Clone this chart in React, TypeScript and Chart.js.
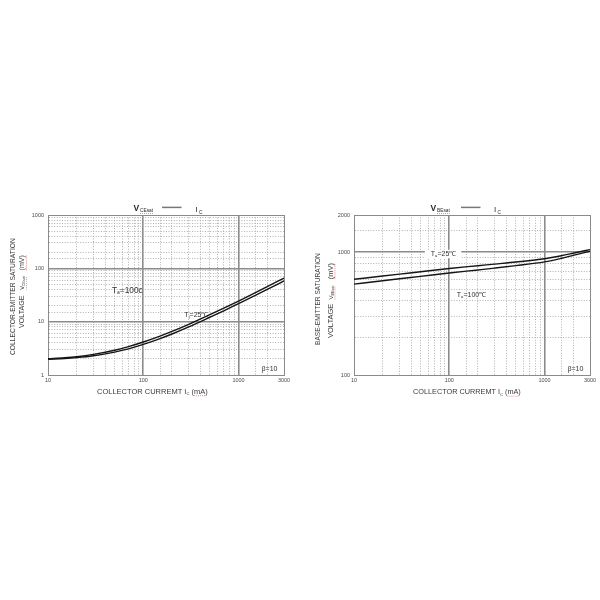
import React, { useEffect, useRef } from 'react';
import { Chart, registerables } from 'chart.js';

Chart.register(...registerables);

const FONT = '"Liberation Sans", Arial, Helvetica, sans-serif';

// ---------- data ----------
const leftCurrent = [10, 15, 20, 30, 50, 70, 100, 150, 200, 300, 500, 700, 1000, 1500, 2000, 3000];
const vceSatHot = [2.02, 2.1, 2.2, 2.43, 2.91, 3.4, 4.15, 5.36, 6.55, 8.9, 13.5, 17.9, 24.4, 35.0, 45.3, 65.6];
const vceSatCold = [1.98, 2.04, 2.115, 2.29, 2.69, 3.09, 3.74, 4.81, 5.87, 7.98, 12.1, 16.0, 21.8, 31.1, 40.2, 58.1];

const rightCurrent = [10, 20, 30, 50, 100, 200, 300, 500, 1000, 1500, 2000, 3000];
const vbeSat25 = [600, 638, 661, 691, 735, 774, 798, 829, 882, 933, 978, 1047];
const vbeSat100 = [548, 584, 606, 634, 675, 715, 740, 775, 832, 889, 940, 1016];

const xTickLabels = [10, 100, 1000, 3000];
const leftYTickLabels = [1, 10, 100, 1000];
const rightYTickLabels = [100, 1000, 2000];
const xMajorLines = [100, 1000];
const leftYMajorLines = [10, 100];
const rightYMajorLines = [1000];

// ---------- helpers ----------
const near = (a: number, b: number) => Math.abs(a - b) <= Math.abs(b) * 1e-6;
const inList = (v: number, list: number[]) => list.some((l) => near(v, l));
const fnt = (size: number, bold = false) => `${bold ? 'bold ' : ''}${size}px ${FONT}`;

type Part = { t: string; s?: number; dy?: number; bold?: boolean; u?: boolean };

function measureParts(ctx: CanvasRenderingContext2D, parts: Part[], base: number) {
  let w = 0;
  for (const p of parts) {
    ctx.font = fnt(base * (p.s ?? 1), p.bold);
    w += ctx.measureText(p.t).width;
  }
  return w;
}

function drawParts(ctx: CanvasRenderingContext2D, parts: Part[], x: number, y: number, base: number, color: string) {
  let cx = x;
  const unders: [number, number][] = [];
  ctx.fillStyle = color;
  ctx.textAlign = 'left';
  ctx.textBaseline = 'alphabetic';
  for (const p of parts) {
    ctx.font = fnt(base * (p.s ?? 1), p.bold);
    const w = ctx.measureText(p.t).width;
    ctx.fillText(p.t, cx, y + (p.dy ?? 0) * base);
    if (p.u) unders.push([cx, cx + w]);
    cx += w;
  }
  if (unders.length) {
    ctx.save();
    ctx.strokeStyle = '#e07a7a';
    ctx.lineWidth = 0.8;
    ctx.setLineDash([1, 1]);
    const uy = y + base * 0.3;
    for (const [a, b] of unders) {
      ctx.beginPath();
      ctx.moveTo(a, uy);
      ctx.lineTo(b, uy);
      ctx.stroke();
    }
    ctx.restore();
  }
  return cx - x;
}

type Spec = {
  title: { vx: number; y: number; sub: string; subX: number; lineX1: number; lineX2: number; ix: number };
  yTitle: { lines: { parts: Part[]; cx: number; cy: number; len: number }[] };
  xTitle: { parts: Part[]; cx: number; y: number; len: number };
  notes: { parts: Part[]; x: number; y: number; size: number; bg?: boolean }[];
};

function figTextPlugin(spec: Spec) {
  return {
    id: 'figText',
    afterDraw(chart: any) {
      const ctx: CanvasRenderingContext2D = chart.ctx;
      ctx.save();
      const ink = '#2a2a2a';
      // chart title: V_xxx —— I_C
      const t = spec.title;
      ctx.fillStyle = ink;
      ctx.textBaseline = 'alphabetic';
      ctx.textAlign = 'left';
      ctx.font = fnt(8.5, true);
      ctx.fillText('V', t.vx, t.y);
      drawParts(ctx, [{ t: t.sub, u: true }], t.subX, t.y + 1.2, 4.8, ink);
      ctx.strokeStyle = '#777';
      ctx.lineWidth = 1.5;
      ctx.beginPath();
      ctx.moveTo(t.lineX1, t.y - 3.6);
      ctx.lineTo(t.lineX2, t.y - 3.6);
      ctx.stroke();
      ctx.fillStyle = ink;
      ctx.font = fnt(8);
      ctx.fillText('I', t.ix, t.y + 1.2);
      ctx.font = fnt(4.8);
      ctx.fillText('C', t.ix + 3.4, t.y + 2.6);

      // y-axis title (rotated)
      for (const line of spec.yTitle.lines) {
        const w10 = measureParts(ctx, line.parts, 10);
        const base = (10 * line.len) / w10;
        ctx.save();
        ctx.translate(line.cx, line.cy);
        ctx.rotate(-Math.PI / 2);
        drawParts(ctx, line.parts, -line.len / 2, base * 0.36, base, '#3a3a3a');
        ctx.restore();
      }

      // x-axis title
      {
        const xt = spec.xTitle;
        const w10 = measureParts(ctx, xt.parts, 10);
        const base = (10 * xt.len) / w10;
        drawParts(ctx, xt.parts, xt.cx - xt.len / 2, xt.y, base, '#3a3a3a');
      }

      // annotations in data space
      const xs = chart.scales.x;
      const ys = chart.scales.y;
      for (const n of spec.notes) {
        const px = xs.getPixelForValue(n.x);
        const py = ys.getPixelForValue(n.y);
        if (n.bg) {
          const w = measureParts(ctx, n.parts, n.size);
          ctx.fillStyle = '#fff';
          ctx.fillRect(px - 6, py - n.size * 0.85, w + 11, n.size * 1.2);
        }
        drawParts(ctx, n.parts, px, py, n.size, '#333');
      }
      ctx.restore();
    },
  };
}

function makeConfig(o: {
  xs: number[];
  series: number[][];
  yMin: number;
  yMax: number;
  yLabels: number[];
  yMajor: number[];
  yAxisWidth: number;
  padRight: number;
  spec: Spec;
}) {
  const gridFor = (major: number[]) => ({
    drawTicks: false,
    color: (c: any) => {
      const v = c.tick?.value;
      if (v === undefined) return '#999';
      if (inList(v, major)) return '#8c8c8c';
      if (near(v, c.scale.min) || near(v, c.scale.max)) return '#8a8a8a';
      return '#a9a9a9';
    },
    lineWidth: (c: any) => {
      const v = c.tick?.value;
      if (v === undefined) return 1;
      if (inList(v, major)) return 1.6;
      if (near(v, c.scale.min) || near(v, c.scale.max)) return 1;
      return 0.9;
    },
  });
  const borderFor = (major: number[]) => ({
    color: '#8a8a8a',
    width: 1,
    dash: (c: any) => {
      const v = c.tick?.value;
      if (v === undefined) return [];
      if (inList(v, major) || near(v, c.scale.min) || near(v, c.scale.max)) return [];
      return [1, 1.6];
    },
  });
  const ticksFor = (labels: number[], padding: number) => ({
    autoSkip: false,
    maxRotation: 0,
    minRotation: 0,
    padding,
    color: '#4a4a4a',
    font: { family: FONT, size: 5.5 },
    callback: (value: any) => (inList(Number(value), labels) ? String(value) : ''),
  });

  return {
    type: 'line' as const,
    data: {
      datasets: o.series.map((s) => ({
        data: o.xs.map((x, i) => ({ x, y: s[i] })),
        borderColor: '#151515',
        borderWidth: 1.4,
        pointRadius: 0,
        fill: false,
        cubicInterpolationMode: 'monotone' as const,
      })),
    },
    options: {
      responsive: false,
      animation: false as const,
      events: [] as any[],
      layout: { padding: { left: 0, top: 20, right: o.padRight, bottom: 0 } },
      plugins: { legend: { display: false }, title: { display: false }, tooltip: { enabled: false } },
      scales: {
        x: {
          type: 'logarithmic' as const,
          min: 10,
          max: 3000,
          afterFit: (s: any) => {
            s.height = 35;
          },
          grid: gridFor(xMajorLines),
          border: borderFor(xMajorLines),
          ticks: ticksFor(xTickLabels, 2),
        },
        y: {
          type: 'logarithmic' as const,
          min: o.yMin,
          max: o.yMax,
          afterFit: (s: any) => {
            s.width = o.yAxisWidth;
          },
          grid: gridFor(o.yMajor),
          border: borderFor(o.yMajor),
          ticks: ticksFor(o.yLabels, 4),
        },
      },
    },
    plugins: [figTextPlugin(o.spec)],
  };
}

const leftSpec: Spec = {
  title: { vx: 133.5, y: 16, sub: 'CEsat', subX: 140, lineX1: 162, lineX2: 181.5, ix: 195.5 },
  yTitle: {
    lines: [
      { parts: [{ t: 'COLLECTOR-EMITTER SATURATION' }], cx: 12.5, cy: 101.5, len: 117 },
      {
        parts: [
          { t: 'VOLTAGE   ' },
          { t: 'V', s: 0.8, u: true },
          { t: 'CEsat', s: 0.5, dy: 0.15, u: true },
          { t: '   ' },
          { t: '(mV)', u: true },
        ],
        cx: 21.7,
        cy: 96.5,
        len: 73,
      },
    ],
  },
  xTitle: {
    parts: [{ t: 'COLLECTOR CURREMT I' }, { t: 'C', s: 0.55, dy: 0.25 }, { t: ' (' }, { t: 'mA', u: true }, { t: ')' }],
    cx: 152.5,
    y: 198.5,
    len: 111,
  },
  notes: [
    { parts: [{ t: 'T' }, { t: 'a', s: 0.6, dy: 0.2 }, { t: '=100c' }], x: 47, y: 35, size: 8.3 },
    { parts: [{ t: 'T' }, { t: 'j', s: 0.6, dy: 0.2 }, { t: '=25℃' }], x: 270, y: 12.4, size: 7 },
    { parts: [{ t: 'β=10' }], x: 1745, y: 1.19, size: 7 },
  ],
};

const rightSpec: Spec = {
  title: { vx: 130.5, y: 16, sub: 'BEsat', subX: 137, lineX1: 161, lineX2: 180.5, ix: 194 },
  yTitle: {
    lines: [
      { parts: [{ t: 'BASE-EMITTER SATURATION' }], cx: 18, cy: 104, len: 92 },
      {
        parts: [
          { t: 'VOLTAGE  ' },
          { t: 'V', s: 0.8, u: true },
          { t: 'BEsat', s: 0.5, dy: 0.15, u: true },
          { t: '   ' },
          { t: '(mV)', u: true },
        ],
        cx: 30,
        cy: 105.5,
        len: 75,
      },
    ],
  },
  xTitle: {
    parts: [{ t: 'COLLECTOR CURREMT I' }, { t: 'C', s: 0.55, dy: 0.25 }, { t: ' (' }, { t: 'mA', u: true }, { t: ')' }],
    cx: 167,
    y: 199,
    len: 108,
  },
  notes: [
    { parts: [{ t: 'T' }, { t: 'a', s: 0.6, dy: 0.2 }, { t: '=25℃' }], x: 64, y: 933, size: 7, bg: true },
    { parts: [{ t: 'T' }, { t: 'a', s: 0.6, dy: 0.2 }, { t: '=100℃' }], x: 120, y: 432, size: 7 },
    { parts: [{ t: 'β=10' }], x: 1742, y: 108, size: 7 },
  ],
};

export default function App() {
  const leftRef = useRef<HTMLCanvasElement>(null);
  const rightRef = useRef<HTMLCanvasElement>(null);

  useEffect(() => {
    const c1 = new Chart(
      leftRef.current as HTMLCanvasElement,
      makeConfig({
        xs: leftCurrent,
        series: [vceSatHot, vceSatCold],
        yMin: 1,
        yMax: 1000,
        yLabels: leftYTickLabels,
        yMajor: leftYMajorLines,
        yAxisWidth: 48,
        padRight: 16,
        spec: leftSpec,
      }) as any
    );
    const c2 = new Chart(
      rightRef.current as HTMLCanvasElement,
      makeConfig({
        xs: rightCurrent,
        series: [vbeSat25, vbeSat100],
        yMin: 100,
        yMax: 2000,
        yLabels: rightYTickLabels,
        yMajor: rightYMajorLines,
        yAxisWidth: 54,
        padRight: 10,
        spec: rightSpec,
      }) as any
    );
    return () => {
      c1.destroy();
      c2.destroy();
    };
  }, []);

  return (
    <div style={{ position: 'absolute', left: 0, top: 0, width: 600, height: 600, background: '#fff' }}>
      <canvas
        ref={leftRef}
        width={300}
        height={215}
        style={{ position: 'absolute', left: 0, top: 195, width: 300, height: 215 }}
      />
      <canvas
        ref={rightRef}
        width={300}
        height={215}
        style={{ position: 'absolute', left: 300, top: 195, width: 300, height: 215 }}
      />
    </div>
  );
}
